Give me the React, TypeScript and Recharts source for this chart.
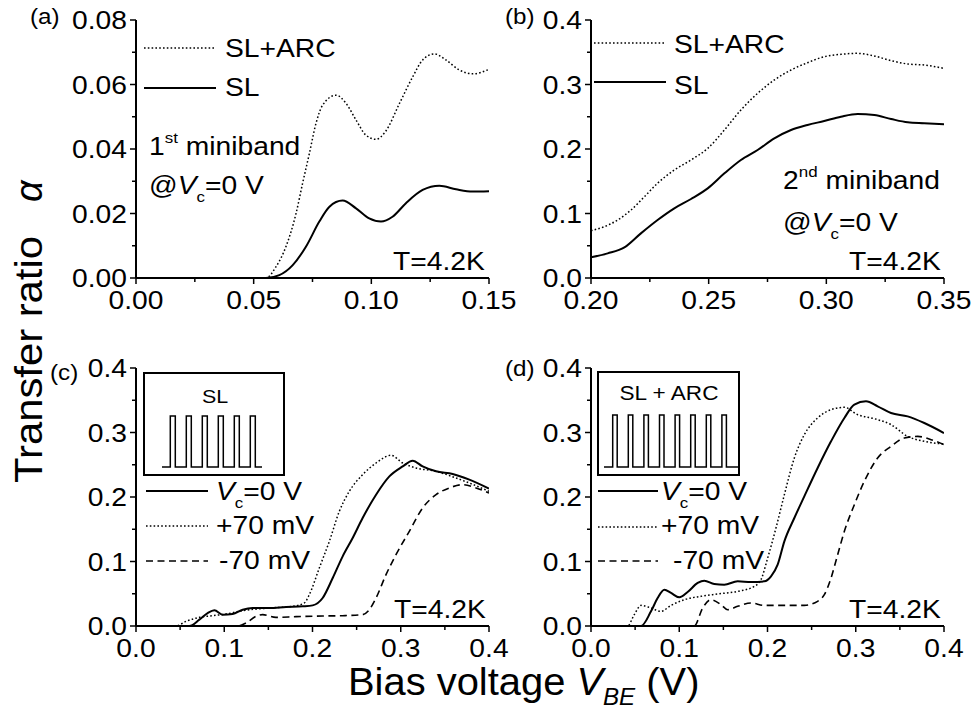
import React from 'react';
import { LineChart, Line, XAxis, YAxis } from 'recharts';

const FONT = '"Liberation Sans", Arial, Helvetica, sans-serif';
const SX = 1.13;
const TICK_FS = 25;

// ---------- Panel (a): 1st miniband ----------
const aArcV = [0, 0.03, 0.0552, 0.0595, 0.0637, 0.068, 0.0708, 0.0737, 0.0765, 0.0793, 0.085, 0.0892, 0.0935, 0.0977, 0.102, 0.106, 0.112, 0.1176, 0.1218, 0.1268, 0.1317, 0.1374, 0.143, 0.15];
const aArcA = [0, 0, 0, 0.0035, 0.0097, 0.02, 0.0294, 0.0387, 0.048, 0.0536, 0.0567, 0.0542, 0.049, 0.0443, 0.043, 0.0454, 0.0542, 0.0624, 0.0676, 0.0695, 0.0676, 0.0645, 0.0633, 0.0647];
const aSlV = [0, 0.03, 0.0552, 0.0609, 0.0666, 0.0722, 0.0779, 0.0822, 0.0878, 0.0935, 0.0991, 0.1041, 0.109, 0.1147, 0.1218, 0.1289, 0.136, 0.143, 0.15];
const aSlA = [0, 0, 0, 0.0009, 0.004, 0.0097, 0.0175, 0.0221, 0.024, 0.0216, 0.0185, 0.0175, 0.019, 0.0232, 0.0273, 0.0286, 0.0275, 0.0268, 0.0269];
const aXTicks = [0, 0.025, 0.05, 0.075, 0.1, 0.125, 0.15];
const aXMajor = [0, 0.05, 0.1, 0.15];
const aYTicks = [0, 0.01, 0.02, 0.03, 0.04, 0.05, 0.06, 0.07, 0.08];
const aYMajor = [0, 0.02, 0.04, 0.06, 0.08];

// ---------- Panel (b): 2nd miniband ----------
const bArcV = [0.2, 0.2057, 0.2113, 0.217, 0.2227, 0.2283, 0.2354, 0.2425, 0.2496, 0.2567, 0.2637, 0.2708, 0.2779, 0.285, 0.292, 0.2991, 0.3062, 0.3133, 0.3204, 0.3275, 0.3346, 0.3416, 0.35];
const bArcA = [0.0734, 0.0796, 0.0899, 0.1054, 0.126, 0.147, 0.1674, 0.183, 0.201, 0.2295, 0.2605, 0.2863, 0.307, 0.3225, 0.3338, 0.3431, 0.3468, 0.3483, 0.3442, 0.337, 0.3318, 0.3302, 0.325];
const bSlV = [0.2, 0.2071, 0.2142, 0.2212, 0.2283, 0.2354, 0.2425, 0.2496, 0.2567, 0.2637, 0.2708, 0.2779, 0.285, 0.292, 0.2991, 0.3062, 0.3133, 0.3204, 0.3275, 0.3346, 0.3416, 0.35];
const bSlA = [0.032, 0.0382, 0.0475, 0.0692, 0.0899, 0.108, 0.1225, 0.139, 0.1623, 0.183, 0.1984, 0.2165, 0.2295, 0.2372, 0.2434, 0.2501, 0.2543, 0.2527, 0.2465, 0.2413, 0.2398, 0.2382];
const bXTicks = [0.2, 0.225, 0.25, 0.275, 0.3, 0.325, 0.35];
const bXMajor = [0.2, 0.25, 0.3, 0.35];

// ---------- shared ticks for (b),(c),(d) ----------
const yTicks4 = [0, 0.05, 0.1, 0.15, 0.2, 0.25, 0.3, 0.35, 0.4];
const yMajor4 = [0, 0.1, 0.2, 0.3, 0.4];
const cdXTicks = [0, 0.05, 0.1, 0.15, 0.2, 0.25, 0.3, 0.35, 0.4];
const cdXMajor = [0, 0.1, 0.2, 0.3, 0.4];

// ---------- Panel (c): SL ----------
const c0V = [0, 0.03, 0.0604, 0.0718, 0.0812, 0.0888, 0.0982, 0.1095, 0.1209, 0.1322, 0.151, 0.17, 0.1889, 0.2002, 0.2115, 0.2229, 0.2342, 0.2455, 0.2568, 0.272, 0.2871, 0.3022, 0.3135, 0.3248, 0.34, 0.3588, 0.3777, 0.4];
const c0A = [0, 0, 0, 0.0098, 0.02, 0.0243, 0.0176, 0.0186, 0.0253, 0.0279, 0.0279, 0.0295, 0.0305, 0.032, 0.0434, 0.0744, 0.108, 0.1364, 0.1674, 0.2036, 0.232, 0.2475, 0.2563, 0.2475, 0.2398, 0.2357, 0.2269, 0.213];
const cPV = [0, 0.03, 0.0453, 0.0567, 0.0718, 0.0869, 0.102, 0.1209, 0.151, 0.1775, 0.1907, 0.1964, 0.2077, 0.2191, 0.2304, 0.2417, 0.2568, 0.272, 0.2889, 0.3022, 0.3173, 0.34, 0.3626, 0.3777, 0.4];
const cPA = [0, 0, 0, 0.0072, 0.0134, 0.016, 0.0186, 0.0238, 0.0279, 0.0305, 0.0357, 0.0486, 0.0899, 0.1313, 0.1778, 0.2088, 0.2346, 0.2527, 0.2646, 0.2527, 0.245, 0.2398, 0.2295, 0.2217, 0.2088];
const cMV = [0, 0.08, 0.115, 0.1246, 0.136, 0.1435, 0.1586, 0.1813, 0.2115, 0.2342, 0.2568, 0.2644, 0.272, 0.2833, 0.2946, 0.3097, 0.3248, 0.34, 0.355, 0.3702, 0.3853, 0.4];
const cMA = [0, 0, 0, 0.0047, 0.015, 0.0176, 0.0134, 0.0145, 0.0155, 0.016, 0.0176, 0.0253, 0.0434, 0.0796, 0.1106, 0.1468, 0.183, 0.2036, 0.214, 0.2191, 0.214, 0.2062];

// ---------- Panel (d): SL + ARC ----------
const d0V = [0, 0.03, 0.0567, 0.068, 0.0755, 0.0831, 0.0907, 0.1001, 0.1095, 0.1209, 0.1284, 0.1397, 0.151, 0.1662, 0.1813, 0.1964, 0.204, 0.2115, 0.2191, 0.2304, 0.2417, 0.2568, 0.272, 0.2871, 0.2984, 0.3116, 0.3248, 0.34, 0.3588, 0.3777, 0.4];
const d0A = [0, 0, 0, 0.0227, 0.0434, 0.0563, 0.0512, 0.0444, 0.0527, 0.0667, 0.0703, 0.0651, 0.0641, 0.0692, 0.0682, 0.0692, 0.077, 0.0951, 0.1313, 0.1674, 0.201, 0.245, 0.2863, 0.3225, 0.3431, 0.3483, 0.3406, 0.3302, 0.325, 0.3147, 0.2992];
const dPV = [0, 0.02, 0.0415, 0.049, 0.0567, 0.068, 0.0793, 0.0907, 0.1058, 0.1246, 0.1435, 0.1662, 0.1851, 0.1926, 0.2002, 0.2096, 0.2191, 0.2304, 0.2417, 0.2568, 0.272, 0.2871, 0.3022, 0.321, 0.34, 0.3588, 0.3777, 0.4];
const dPA = [0, 0, 0, 0.0176, 0.032, 0.0279, 0.0227, 0.032, 0.0408, 0.046, 0.0496, 0.0537, 0.0615, 0.0718, 0.1054, 0.1519, 0.2036, 0.2605, 0.2966, 0.3225, 0.3354, 0.339, 0.3276, 0.3214, 0.3121, 0.294, 0.2863, 0.2822];
const dMV = [0, 0.08, 0.117, 0.1265, 0.136, 0.1473, 0.1549, 0.1662, 0.1813, 0.1964, 0.2191, 0.2417, 0.2568, 0.2644, 0.272, 0.2795, 0.2871, 0.2984, 0.3097, 0.3248, 0.34, 0.355, 0.3702, 0.3853, 0.4];
const dMA = [0, 0, 0, 0.0279, 0.0408, 0.0331, 0.0253, 0.0305, 0.0357, 0.032, 0.032, 0.032, 0.0382, 0.0486, 0.0744, 0.1106, 0.1468, 0.1881, 0.2243, 0.2605, 0.2785, 0.2915, 0.294, 0.2889, 0.2811];

const zip = (xs: number[], ys: number[]) => xs.map((x, i) => ({ x, y: ys[i] }));

const isMajor = (list: number[], v: number) => list.some((m) => Math.abs(m - v) < 1e-9);

const PW = 353;
const PH = 258;
const ML = 80;
const MT = 22;
const MR = 40;
const MB = 45;

function BottomTick(props: any) {
  const { x, y, payload, major, digits } = props;
  const v = payload.value as number;
  const m = isMajor(major, v);
  return (
    <g>
      <line x1={x} x2={x} y1={y} y2={y + (m ? 6 : 4)} stroke="#000" strokeWidth={1.5} />
      {m && (
        <g transform={`translate(${x},${y + 31}) scale(${SX},1)`}>
          <text x={0} y={0} textAnchor="middle" fontSize={TICK_FS} fontFamily={FONT} fill="#000">
            {v.toFixed(digits)}
          </text>
        </g>
      )}
    </g>
  );
}

function TopTick(props: any) {
  const { x, y, payload, major } = props;
  const m = isMajor(major, payload.value);
  return <line x1={x} x2={x} y1={y} y2={y + (m ? 5 : 4)} stroke="#000" strokeWidth={1.5} />;
}

function LeftTick(props: any) {
  const { x, y, payload, major, digits } = props;
  const v = payload.value as number;
  const m = isMajor(major, v);
  return (
    <g>
      <line x1={x} x2={x - (m ? 6 : 4)} y1={y} y2={y} stroke="#000" strokeWidth={1.5} />
      {m && (
        <g transform={`translate(${x - 9},${y + 9}) scale(${SX},1)`}>
          <text x={0} y={0} textAnchor="end" fontSize={TICK_FS} fontFamily={FONT} fill="#000">
            {v.toFixed(digits)}
          </text>
        </g>
      )}
    </g>
  );
}

function RightTick(props: any) {
  const { x, y, payload, major } = props;
  const m = isMajor(major, payload.value);
  return <line x1={x} x2={x - (m ? 5 : 4)} y1={y} y2={y} stroke="#000" strokeWidth={1.5} />;
}

type Series = { data: { x: number; y: number }[]; dash?: string; width: number };

function Panel(p: {
  px: number; py: number;
  xDomain: [number, number]; xTicks: number[]; xMajor: number[]; xDigits: number;
  yDomain: [number, number]; yTicks: number[]; yMajor: number[]; yDigits: number;
  series: Series[];
}) {
  const axisLine = { stroke: '#000', strokeWidth: 2 };
  return (
    <div style={{ position: 'absolute', left: p.px - ML, top: p.py - MT }}>
      <LineChart width={ML + PW + MR} height={MT + PH + MB} margin={{ top: MT, right: MR, bottom: 0, left: 0 }}>
        <XAxis xAxisId="b" type="number" dataKey="x" domain={p.xDomain} allowDataOverflow ticks={p.xTicks} interval={0}
          height={MB} tickSize={0} tickMargin={0} axisLine={axisLine} tickLine={false}
          tick={(t: any) => <BottomTick {...t} major={p.xMajor} digits={p.xDigits} />} />
        <XAxis xAxisId="t" orientation="top" type="number" dataKey="x" domain={p.xDomain} allowDataOverflow ticks={p.xTicks} interval={0}
          height={0} tickSize={0} tickMargin={0} axisLine={axisLine} tickLine={false}
          tick={(t: any) => <TopTick {...t} major={p.xMajor} />} />
        <YAxis yAxisId="l" type="number" domain={p.yDomain} allowDataOverflow ticks={p.yTicks} interval={0}
          width={ML} tickSize={0} tickMargin={0} axisLine={axisLine} tickLine={false}
          tick={(t: any) => <LeftTick {...t} major={p.yMajor} digits={p.yDigits} />} />
        <YAxis yAxisId="r" orientation="right" type="number" domain={p.yDomain} allowDataOverflow ticks={p.yTicks} interval={0}
          width={0} tickSize={0} tickMargin={0} axisLine={axisLine} tickLine={false}
          tick={(t: any) => <RightTick {...t} major={p.yMajor} />} />
        {p.series.map((s, i) => (
          <Line key={i} xAxisId="b" yAxisId="l" data={s.data} dataKey="y" type="monotone" stroke="#000"
            strokeWidth={s.width} strokeDasharray={s.dash} dot={false} activeDot={false} isAnimationActive={false} />
        ))}
      </LineChart>
    </div>
  );
}

const SOLID = 2;
const DOT = '1.6 2.2';
const DASH = '7 4.5';

function Txt(props: { x: number; y: number; size?: number; sx?: number; anchor?: string; children: any; italic?: boolean; rotate?: number }) {
  const { x, y, size = 25, sx = SX, anchor = 'start', children, italic, rotate } = props;
  return (
    <g transform={`translate(${x},${y})${rotate ? ` rotate(${rotate})` : ''} scale(${sx},1)`}>
      <text x={0} y={0} fontSize={size} fontFamily={FONT} textAnchor={anchor as any} fill="#000"
        fontStyle={italic ? 'italic' : 'normal'} style={{ whiteSpace: 'pre' }}>
        {children}
      </text>
    </g>
  );
}

function wave(x0: number, x1: number, yb: number, yt: number, first: number, period: number, w: number, n: number) {
  let d = `M${x0},${yb}`;
  for (let i = 0; i < n; i++) {
    const s = first + i * period;
    d += ` L${s},${yb} L${s},${yt} L${s + w},${yt} L${s + w},${yb}`;
  }
  d += ` L${x1},${yb}`;
  return d;
}

function Sample({ x1, x2, y, dash, width }: { x1: number; x2: number; y: number; dash?: string; width: number }) {
  return <line x1={x1} x2={x2} y1={y} y2={y} stroke="#000" strokeWidth={width} strokeDasharray={dash} />;
}

function VcLabel({ x, y }: { x: number; y: number }) {
  return (
    <g transform={`translate(${x},${y}) scale(${SX},1)`}>
      <text x={0} y={0} fontSize={25} fontFamily={FONT} fill="#000" style={{ whiteSpace: 'pre' }}>
        <tspan fontStyle="italic">V</tspan>
        <tspan fontSize={15} dy={8}>c</tspan>
        <tspan dy={-8}>=0 V</tspan>
      </text>
    </g>
  );
}

function AtVc({ x, y }: { x: number; y: number }) {
  return (
    <g transform={`translate(${x},${y}) scale(${SX},1)`}>
      <text x={0} y={0} fontSize={25} fontFamily={FONT} fill="#000" style={{ whiteSpace: 'pre' }}>
        <tspan>@</tspan>
        <tspan fontStyle="italic">V</tspan>
        <tspan fontSize={15} dy={8}>c</tspan>
        <tspan dy={-8}>=0 V</tspan>
      </text>
    </g>
  );
}

function Miniband({ x, y, n, sup }: { x: number; y: number; n: string; sup: string }) {
  return (
    <g transform={`translate(${x},${y}) scale(${SX},1)`}>
      <text x={0} y={0} fontSize={25} fontFamily={FONT} fill="#000" style={{ whiteSpace: 'pre' }}>
        <tspan>{n}</tspan>
        <tspan fontSize={15} dy={-12}>{sup}</tspan>
        <tspan dy={12}> miniband</tspan>
      </text>
    </g>
  );
}

export default function App() {
  return (
    <div style={{ position: 'absolute', left: 0, top: 0, width: 975, height: 718, background: '#fff', overflow: 'hidden' }}>
      <Panel px={136} py={20} xDomain={[0, 0.15]} xTicks={aXTicks} xMajor={aXMajor} xDigits={2}
        yDomain={[0, 0.08]} yTicks={aYTicks} yMajor={aYMajor} yDigits={2}
        series={[
          { data: zip(aArcV, aArcA), dash: DOT, width: 1.5 },
          { data: zip(aSlV, aSlA), width: SOLID },
        ]} />
      <Panel px={591} py={20} xDomain={[0.2, 0.35]} xTicks={bXTicks} xMajor={bXMajor} xDigits={2}
        yDomain={[0, 0.4]} yTicks={yTicks4} yMajor={yMajor4} yDigits={1}
        series={[
          { data: zip(bArcV, bArcA), dash: DOT, width: 1.5 },
          { data: zip(bSlV, bSlA), width: SOLID },
        ]} />
      <Panel px={136} py={368} xDomain={[0, 0.4]} xTicks={cdXTicks} xMajor={cdXMajor} xDigits={1}
        yDomain={[0, 0.4]} yTicks={yTicks4} yMajor={yMajor4} yDigits={1}
        series={[
          { data: zip(cMV, cMA), dash: DASH, width: 1.6 },
          { data: zip(cPV, cPA), dash: DOT, width: 1.5 },
          { data: zip(c0V, c0A), width: SOLID },
        ]} />
      <Panel px={591} py={368} xDomain={[0, 0.4]} xTicks={cdXTicks} xMajor={cdXMajor} xDigits={1}
        yDomain={[0, 0.4]} yTicks={yTicks4} yMajor={yMajor4} yDigits={1}
        series={[
          { data: zip(dMV, dMA), dash: DASH, width: 1.6 },
          { data: zip(dPV, dPA), dash: DOT, width: 1.5 },
          { data: zip(d0V, d0A), width: SOLID },
        ]} />

      <svg width={975} height={718} style={{ position: 'absolute', left: 0, top: 0, pointerEvents: 'none' }}>
        {/* panel labels */}
        <Txt x={30} y={24} size={22} sx={1.1}>(a)</Txt>
        <Txt x={505} y={24} size={22} sx={1.1}>(b)</Txt>
        <Txt x={50} y={380} size={22} sx={1.1}>(c)</Txt>
        <Txt x={505} y={376} size={22} sx={1.1}>(d)</Txt>

        {/* (a) */}
        <Sample x1={144} x2={216} y={48} dash={DOT} width={1.5} />
        <Txt x={225} y={57}>SL+ARC</Txt>
        <Sample x1={144} x2={216} y={88} width={SOLID} />
        <Txt x={225} y={96}>SL</Txt>
        <Miniband x={149} y={155} n="1" sup="st" />
        <AtVc x={149} y={194} />
        <Txt x={393} y={270}>T=4.2K</Txt>

        {/* (b) */}
        <Sample x1={594} x2={666} y={43} dash={DOT} width={1.5} />
        <Txt x={674} y={53}>SL+ARC</Txt>
        <Sample x1={594} x2={666} y={82} width={SOLID} />
        <Txt x={674} y={94}>SL</Txt>
        <Miniband x={783} y={189} n="2" sup="nd" />
        <AtVc x={783} y={231} />
        <Txt x={849} y={270}>T=4.2K</Txt>

        {/* (c) */}
        <rect x={144} y={373} width={140} height={102} fill="#fff" stroke="#000" strokeWidth={2} />
        <Txt x={215} y={403} size={19} anchor="middle">SL</Txt>
        <path d={wave(162, 262, 467, 416, 170.3, 16, 5, 6)} fill="none" stroke="#000" strokeWidth={1.5} />
        <Sample x1={146} x2={208} y={491} width={SOLID} />
        <VcLabel x={216} y={500} />
        <Sample x1={146} x2={208} y={526} dash={DOT} width={1.5} />
        <Txt x={216} y={534}>+70 mV</Txt>
        <Sample x1={146} x2={208} y={561} dash={DASH} width={1.6} />
        <Txt x={219} y={569}>-70 mV</Txt>
        <Txt x={394} y={618}>T=4.2K</Txt>

        {/* (d) */}
        <rect x={598} y={372} width={141} height={103} fill="#fff" stroke="#000" strokeWidth={2} />
        <Txt x={669} y={400} size={20} anchor="middle">SL + ARC</Txt>
        <path d={wave(604, 738, 467, 415, 612.7, 15.6, 4.5, 8)} fill="none" stroke="#000" strokeWidth={1.5} />
        <Sample x1={598} x2={658} y={491} width={SOLID} />
        <VcLabel x={661} y={500} />
        <Sample x1={598} x2={658} y={527} dash={DOT} width={1.5} />
        <Txt x={661} y={534}>+70 mV</Txt>
        <Sample x1={598} x2={658} y={561} dash={DASH} width={1.6} />
        <Txt x={673} y={569}>-70 mV</Txt>
        <Txt x={849} y={618}>T=4.2K</Txt>

        {/* axis titles */}
        <g transform={`translate(42,483) rotate(-90) scale(1.1,1)`}>
          <text x={0} y={0} fontSize={38} fontFamily={FONT} fill="#000" style={{ whiteSpace: 'pre' }}>Transfer ratio</text>
        </g>
        <g transform={`translate(42,202) rotate(-90)`}>
          <text x={0} y={0} fontSize={38} fontFamily={FONT} fontStyle="italic" fill="#000">α</text>
        </g>
        <g transform={`translate(348,695) scale(1.05,1)`}>
          <text x={0} y={0} fontSize={38} fontFamily={FONT} fill="#000" style={{ whiteSpace: 'pre' }}>
            <tspan>Bias voltage </tspan>
            <tspan fontStyle="italic">V</tspan>
            <tspan fontStyle="italic" fontSize={23} dy={10}>BE</tspan>
            <tspan dy={-10}> (V)</tspan>
          </text>
        </g>
      </svg>
    </div>
  );
}
